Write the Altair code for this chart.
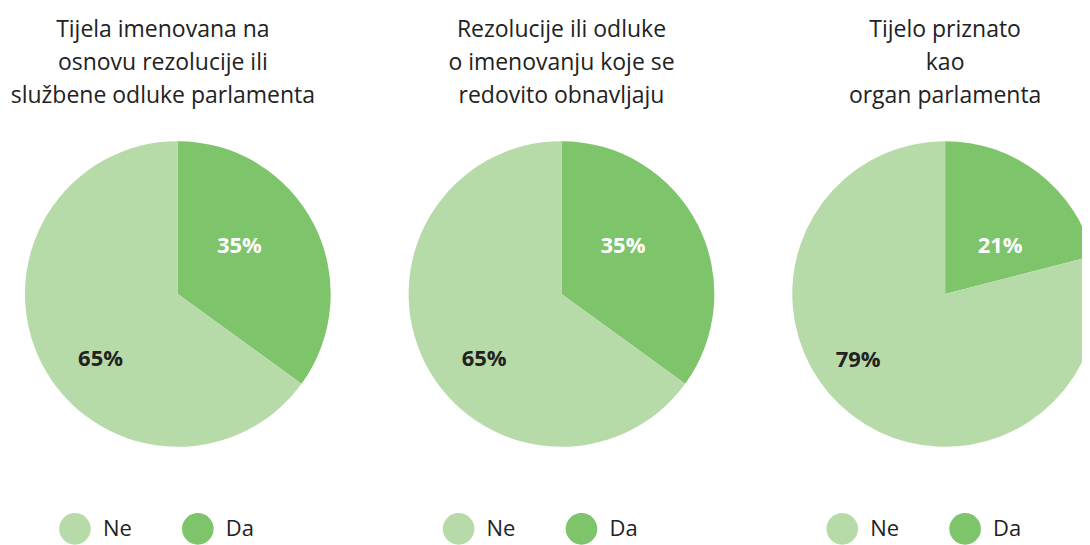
import altair as alt
import pandas as pd

titles = [
    ["Tijela imenovana na", "osnovu rezolucije ili", "službene odluke parlamenta"],
    ["Rezolucije ili odluke", "o imenovanju koje se", "redovito obnavljaju"],
    ["Tijelo priznato", "kao", "organ parlamenta"],
]
categories = ["Da", "Ne"]
da_values = [35, 35, 21]
ne_values = [65, 65, 79]

FONT = "Open Sans"
COLORS = {"Ne": "#b7dba8", "Da": "#7dc46b"}

W = 306
H = 306
SP = 78

# label placement tweaks (angle offset in radians, radius in px) per panel
DA_LABEL = [(-0.19, 78), (-0.19, 78), (0.195, 73)]
NE_LABEL = [(-0.227, 101), (-0.227, 101), (0.265, 109)]
TITLE_DX = [-15, 0, 0]


def panel(i):
    df = pd.DataFrame({
        "cat": categories,
        "value": [da_values[i], ne_values[i]],
        "ord": [0, 1],
    })
    df["label"] = df["value"].astype(str) + "%"
    color = alt.Color(
        "cat:N",
        scale=alt.Scale(domain=["Ne", "Da"], range=[COLORS["Ne"], COLORS["Da"]]),
        legend=alt.Legend(
            title=None, orient="none", direction="horizontal",
            legendX=34, legendY=372, symbolType="circle", symbolSize=1000,
            symbolStrokeWidth=0, symbolOpacity=1, labelFont=FONT,
            labelFontSize=22, labelColor="#222222", labelOffset=12,
            columnPadding=50, padding=0,
        ),
    )
    base = alt.Chart(df).transform_window(
        end="sum(value)", sort=[alt.SortField("ord")], frame=[None, 0]
    ).transform_calculate(
        start="datum.end - datum.value",
        mid="datum.end - datum.value / 2",
    )
    theta_scale = alt.Scale(domain=[0, 100], range=[0, 6.283185307])
    arc = base.mark_arc(outerRadius=153, stroke=None).encode(
        theta=alt.Theta("start:Q", scale=theta_scale),
        theta2="end:Q",
        color=color,
    )
    t_da = base.transform_filter("datum.cat == 'Da'").mark_text(
        radius=DA_LABEL[i][1], thetaOffset=DA_LABEL[i][0], font=FONT,
        fontSize=22, fontWeight="bold", color="white"
    ).encode(theta=alt.Theta("mid:Q", scale=theta_scale), text="label:N")
    t_ne = base.transform_filter("datum.cat == 'Ne'").mark_text(
        radius=NE_LABEL[i][1], thetaOffset=NE_LABEL[i][0], font=FONT,
        fontSize=22, fontWeight="bold", color="#222222"
    ).encode(theta=alt.Theta("mid:Q", scale=theta_scale), text="label:N")
    return alt.layer(arc, t_da, t_ne).properties(
        width=W, height=H,
        title=alt.TitleParams(
            text=titles[i], font=FONT, fontSize=23, fontWeight="normal",
            color="#222222", lineHeight=33, anchor="middle", offset=33,
            dx=TITLE_DX[i],
        ),
    )


chart = alt.hconcat(
    panel(0), panel(1), panel(2), spacing=SP, bounds="flush"
).resolve_scale(color="independent", theta="independent").resolve_legend(
    color="independent"
).properties(
    padding={"left": 2, "top": 11, "right": -16, "bottom": 0}
).configure_view(stroke=None).configure(background="white")

chart.save("out.html", embed_options={"renderer": "svg", "actions": False})
